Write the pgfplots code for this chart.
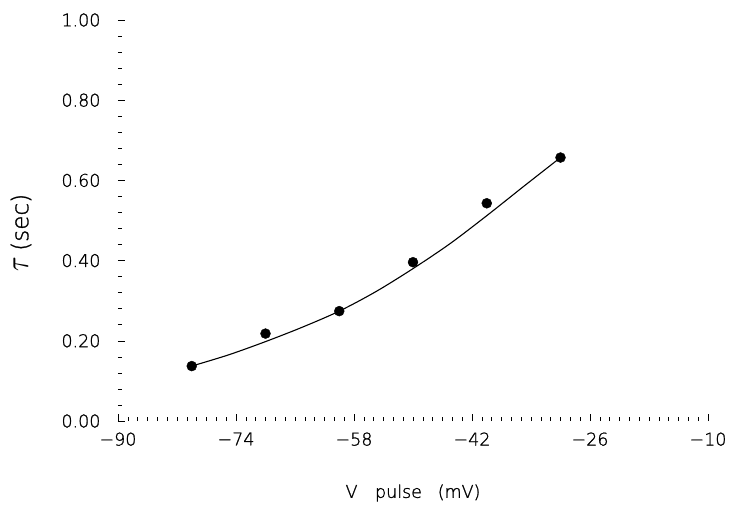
\documentclass[border=0pt]{standalone}
\usepackage{fontspec}
\setmainfont{DejaVu Sans ExtraLight}[BoldFont={DejaVu Sans ExtraLight}, BoldFeatures={FakeBold=1.2}]
\usepackage{graphicx}
\usepackage{pgfplots}
\pgfplotsset{compat=1.18}
\begin{document}
\begin{tikzpicture}
\begin{axis}[
  scale only axis,
  width=590pt, height=401pt,
  xmin=-90, xmax=-10, ymin=0, ymax=1,
  axis lines*=left,
  axis line style={draw=none},
  tick align=inside,
  major tick length=7pt, minor tick length=4pt,
  tick style={black, line width=0.6pt},
  xtick={-90,-74,-58,-42,-26,-10},
  xticklabels={−90,−74,−58,−42,−26,−10},
  minor x tick num=11,
  ytick={0,0.2,0.4,0.6,0.8,1.0},
  minor y tick num=4,
  yticklabel style={/pgf/number format/.cd, fixed, fixed zerofill, precision=2, assume math mode=true},
  every tick label/.append style={font=\fontsize{17.5}{20}\selectfont\bfseries},
  xticklabel shift=8pt,
  yticklabel shift=14pt,
  xlabel={V\hspace{1em}pulse\hspace{0.9em}(mV)},
  xlabel style={font=\fontsize{17.5}{20}\selectfont\bfseries, at={([yshift=-72pt]rel axis cs:0.5,0)}, anchor=center},
  ylabel={\scalebox{2.4}[3.1]{$\tau$}\hspace{6pt}\scalebox{2.1}{(sec)}},
  ylabel style={font=\fontsize{11}{13}\selectfont\bfseries, at={([xshift=-97pt]rel axis cs:0,0.470)}, anchor=center},
  clip=false,
]
\path (rel axis cs:0,0) ++(-118pt,-88pt);
\path (rel axis cs:1,1) ++(22pt,20pt);
\addplot[smooth, black, line width=1.1pt] coordinates {
  (-80,0.137) (-75,0.165) (-70,0.198) (-65,0.234) (-60,0.274)
  (-55,0.323) (-50,0.380) (-45,0.442) (-40,0.512) (-35,0.585) (-30,0.657)
};
\addplot[only marks, mark=*, mark size=5pt, black] coordinates {
  (-80,0.137) (-70,0.218) (-60,0.274) (-50,0.396) (-40,0.543) (-30,0.657)
};
\end{axis}
\end{tikzpicture}
\end{document}
